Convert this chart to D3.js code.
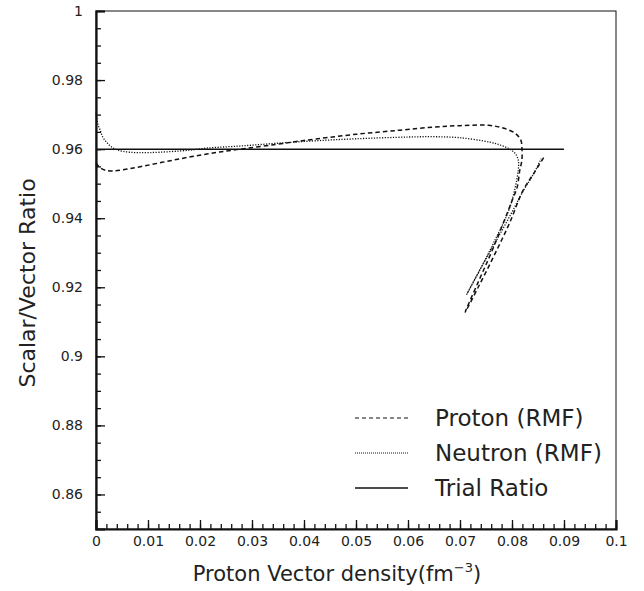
<!DOCTYPE html>
<html>
<head>
<meta charset="utf-8">
<script src="https://cdn.jsdelivr.net/npm/d3@7"></script>
<style>
  body { margin: 0; background: #fff; }
  svg text { font-family: "DejaVu Sans", sans-serif; fill: #222; }
</style>
</head>
<body>
<div id="chart"></div>
<script>
'use strict';

// Proton (RMF): [vector density, scalar/vector ratio], traced from x = 0 end
var protonX = [0, 0.0008, 0.0018, 0.0033, 0.0055, 0.0085, 0.0148, 0.0213, 0.0277, 0.0348,
  0.04, 0.05, 0.0585, 0.065, 0.07, 0.0755, 0.0783, 0.0806, 0.0817, 0.0819, 0.0819, 0.0815,
  0.081, 0.0802, 0.0762, 0.0735, 0.071, 0.0735, 0.0765, 0.0795, 0.0821, 0.0842, 0.0862]
var protonY = [0.9560, 0.9546, 0.9539, 0.9537, 0.9541, 0.9549, 0.9568, 0.9586, 0.9600, 0.9614,
  0.9625, 0.9643, 0.9655, 0.9664, 0.9668, 0.9669, 0.9661, 0.9646, 0.9626, 0.9606, 0.9568, 0.9539,
  0.9490, 0.9458, 0.9307, 0.9215, 0.9128, 0.9200, 0.9290, 0.9385, 0.9480, 0.9530, 0.9578]

// Neutron (RMF)
var neutronX = [0, 0.0004, 0.0008, 0.0013, 0.0021, 0.003, 0.0042, 0.0065, 0.0104, 0.018, 0.0213,
  0.0277, 0.0348, 0.042, 0.05, 0.06, 0.065, 0.07, 0.0758, 0.0777, 0.0792, 0.0806, 0.0812,
  0.0812, 0.0796, 0.0765, 0.074, 0.0713, 0.0738, 0.0768, 0.0798, 0.0822, 0.0842, 0.0856]
var neutronY = [0.9705, 0.9670, 0.9655, 0.9635, 0.9619, 0.9606, 0.9597, 0.9591, 0.9590, 0.9597, 0.9603,
  0.9609, 0.9617, 0.9624, 0.9630, 0.9635, 0.9636, 0.9633, 0.9620, 0.9612, 0.9603, 0.9588, 0.9568,
  0.9539, 0.9432, 0.9330, 0.9255, 0.9180, 0.9250, 0.9330, 0.9412, 0.9480, 0.9530, 0.9572]

// Trial ratio
var trialX = [0, 0.09]
var trialY = [0.96, 0.96]

var xTicks = [0, 0.01, 0.02, 0.03, 0.04, 0.05, 0.06, 0.07, 0.08, 0.09, 0.1]
var yTicks = [0.86, 0.88, 0.9, 0.92, 0.94, 0.96, 0.98, 1]

var legendLabels = ['Proton (RMF)', 'Neutron (RMF)', 'Trial Ratio']

var W = 644, H = 591
var margin = {top: 11, right: 28, bottom: 62, left: 96}
var width = W - margin.left - margin.right
var height = H - margin.top - margin.bottom

var x = d3.scaleLinear().domain([0, 0.1]).range([0, width])
var y = d3.scaleLinear().domain([0.85, 1]).range([height, 0])

var svg = d3.select('#chart').append('svg')
    .attr('width', W)
    .attr('height', H)
  .append('g')
    .attr('transform', 'translate(' + margin.left + ',' + margin.top + ')')

// frame (top / right)
svg.append('rect')
  .attr('x', 0).attr('y', 0)
  .attr('width', width).attr('height', height)
  .style('fill', 'none')
  .style('stroke', '#111')
  .style('stroke-width', 1)

var fmt = d3.format('~g')

// minor ticks
var xMinor = d3.range(0, 101, 2).map(function(d){ return d / 1000 })
var yMinor = d3.range(0, 30).map(function(d){ return +(0.855 + d * 0.005).toFixed(3) })

svg.append('g')
  .attr('transform', 'translate(0,' + height + ')')
  .call(d3.axisBottom(x).tickValues(xMinor).tickSize(-5).tickFormat(''))
  .call(function(g){ g.select('.domain').remove() })

svg.append('g')
  .call(d3.axisLeft(y).tickValues(yMinor).tickSize(-5).tickFormat(''))
  .call(function(g){ g.select('.domain').remove() })

// major ticks + labels
var xAxis = svg.append('g')
  .attr('transform', 'translate(0,' + height + ')')
  .call(d3.axisBottom(x).tickValues(xTicks).tickSize(-9).tickPadding(7).tickFormat(fmt))
xAxis.selectAll('text').style('font-size', '14px')

var yAxis = svg.append('g')
  .call(d3.axisLeft(y).tickValues(yTicks).tickSize(-9).tickPadding(13).tickFormat(fmt))
yAxis.selectAll('text').style('font-size', '14px')

svg.selectAll('.tick line').style('stroke', '#111').style('stroke-width', 1.3)
xAxis.select('.domain').style('stroke', '#111').style('stroke-width', 2.2)
yAxis.select('.domain').style('stroke', '#111').style('stroke-width', 2.2)

// titles
svg.append('text')
  .attr('transform', 'translate(' + (27 - margin.left) + ',' + 272 + ') rotate(-90)')
  .attr('text-anchor', 'middle')
  .attr('dominant-baseline', 'central')
  .style('font-size', '22px')
  .text('Scalar/Vector Ratio')

var xt = svg.append('text')
  .attr('x', 337 - margin.left)
  .attr('y', 581 - margin.top)
  .attr('text-anchor', 'middle')
  .style('font-size', '21px')
xt.append('tspan').text('Proton Vector density(fm')
xt.append('tspan').attr('dy', -9).style('font-size', '13px').text('\u22123')
xt.append('tspan').attr('dy', 9).text(')')

// curves
var line = d3.line()
  .x(function(d){ return x(d[0]) })
  .y(function(d){ return y(d[1]) })
  .curve(d3.curveCatmullRom.alpha(0.5))

var series = [
  {name: legendLabels[0], pts: d3.zip(protonX, protonY), dash: '4.5,3', w: 1.5},
  {name: legendLabels[1], pts: d3.zip(neutronX, neutronY), dash: '1.2,1.5', w: 1.3},
  {name: legendLabels[2], pts: d3.zip(trialX, trialY), dash: null, w: 1.5}
]

svg.selectAll('path.curve')
    .data(series)
  .enter().append('path')
    .attr('class', 'curve')
    .attr('d', function(d){ return line(d.pts) })
    .style('fill', 'none')
    .style('stroke', '#111')
    .style('stroke-width', function(d){ return d.w })
    .style('stroke-dasharray', function(d){ return d.dash })

// legend
var leg = svg.selectAll('g.leg')
    .data(series)
  .enter().append('g')
    .attr('class', 'leg')
    .attr('transform', function(d, i){ return 'translate(0,' + (418 - margin.top + i * 35) + ')' })

leg.append('line')
  .attr('x1', 355 - margin.left).attr('x2', 408 - margin.left)
  .style('stroke', '#111')
  .style('stroke-width', function(d){ return d.dash ? 1 : 1.3 })
  .style('stroke-dasharray', function(d){ return d.dash ? (d.w > 1.4 ? '4,3' : '1,1') : null })

leg.append('text')
  .attr('x', 435 - margin.left)
  .attr('dominant-baseline', 'central')
  .style('font-size', '23px')
  .text(function(d){ return d.name })
</script>
</body>
</html>
